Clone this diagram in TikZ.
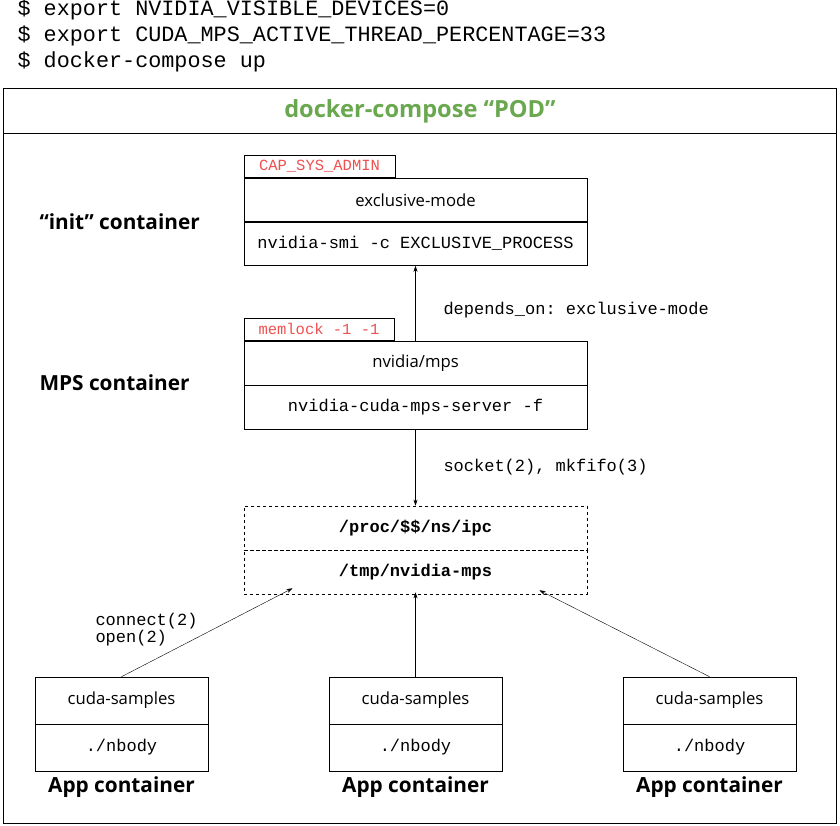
\documentclass[tikz,border=0pt]{standalone}
\usepackage{fontspec}
\setmainfont{Open Sans}
\setmonofont{Liberation Mono}
\usetikzlibrary{arrows.meta}
\definecolor{podgreen}{RGB}{106,168,79}
\definecolor{capred}{RGB}{240,80,80}
\tikzset{
  box/.style={draw, semithick, minimum width=343pt, minimum height=44pt, inner sep=0pt},
  appbox/.style={draw, semithick, minimum width=173pt, minimum height=47pt, inner sep=0pt},
  tab/.style={draw, semithick, anchor=south west, minimum height=22pt, inner sep=0pt, text=capred, font=\ttfamily\fontsize{15.5}{15.5}\selectfont},
  lbl/.style={font=\bfseries\fontsize{20.8}{20.8}\selectfont},
  cmd/.style={font=\ttfamily\fontsize{17}{17}\selectfont},
  boxtitle/.style={font=\fontsize{16.7}{16.7}\selectfont},
  link/.style={-{Stealth[length=6pt,width=4pt]}, thin}
}
\begin{document}
\begin{tikzpicture}[x=1pt,y=-1pt]
\useasboundingbox [fill=white] (0,0) rectangle (840,825);

% shell commands
\node [anchor=west, font=\ttfamily\fontsize{21.8}{21.8}\selectfont] (sh1) at (14,10) {\$ export NVIDIA\_VISIBLE\_DEVICES=0};
\node [anchor=west, font=\ttfamily\fontsize{21.8}{21.8}\selectfont] (sh2) at (14,36) {\$ export CUDA\_MPS\_ACTIVE\_THREAD\_PERCENTAGE=33};
\node [anchor=west, font=\ttfamily\fontsize{21.8}{21.8}\selectfont] (sh3) at (14,62) {\$ docker-compose up};

% pod frame
\draw [semithick] (3,88) rectangle (836,823);
\draw [semithick] (3,133) -- (836,133);
\node [text=podgreen, font=\bfseries\fontsize{23.6}{23.6}\selectfont] (pod) at (420,111) {docker-compose “POD”};

% init container
\node [box, boxtitle] (excl) at (415.5,200) {exclusive-mode};
\node [box, cmd] (smi) at (415.5,243.5) {nvidia-smi -c EXCLUSIVE\_PROCESS};
\node [tab, minimum width=151pt] (cap) at (excl.north west) {CAP\_SYS\_ADMIN};
\node [lbl, anchor=west] (initlbl) at (36,222) {“init” container};

% MPS container
\node [box, boxtitle] (mps) at (415.5,363) {nvidia/mps};
\node [box, cmd] (server) at (415.5,407) {nvidia-cuda-mps-server -f};
\node [tab, minimum width=150pt] (mem) at (mps.north west) {memlock -1 -1};
\node [lbl, anchor=west] (mpslbl) at (36,383) {MPS container};

% shared ipc
\node [box, dashed, font=\ttfamily\bfseries\fontsize{17}{17}\selectfont] (ipc) at (415.5,528) {/proc/\$\$/ns/ipc};
\node [box, dashed, font=\ttfamily\bfseries\fontsize{17}{17}\selectfont] (tmp) at (415.5,572) {/tmp/nvidia-mps};

% app containers
\foreach \i/\x in {1/121.5, 2/415.5, 3/709.5} {
  \node [appbox, boxtitle] (cuda\i) at (\x,700.5) {cuda-samples};
  \node [appbox, cmd] (nbody\i) at (\x,747.5) {./nbody};
  \node [lbl] (app\i) at (\x,787) {App container};
}

% connectors
\draw [link] (mps.north) -- (smi.south);
\node [cmd, anchor=west] (dep) at (440,310) {depends\_on: exclusive-mode};
\draw [link] (server.south) -- (ipc.north);
\node [cmd, anchor=west] (sock) at (440,467) {socket(2), mkfifo(3)};
\draw [link] (cuda1.north) -- ([xshift=-123pt,yshift=6pt]tmp.south);
\draw [link] (cuda2.north) -- ([yshift=2pt]tmp.south);
\draw [link] (cuda3.north) -- ([xshift=124pt,yshift=4pt]tmp.south);
\node [cmd, anchor=west, align=left] (conn) at (92,629.5) {connect(2)\\open(2)};
\end{tikzpicture}
\end{document}
